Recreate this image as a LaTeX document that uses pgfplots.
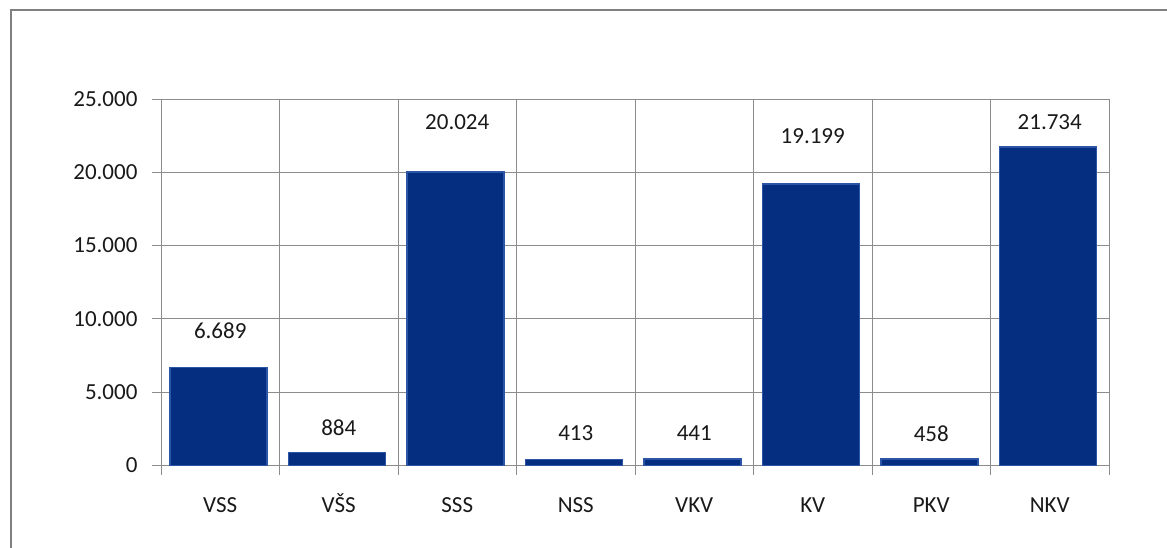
\documentclass[border=0pt]{standalone}
\usepackage{pgfplots}
\pgfplotsset{compat=1.18}
\usepackage{pgfplotstable}
\usepackage{fontspec}
\setmainfont{Carlito}
\definecolor{barfill}{RGB}{6,46,128}
\definecolor{baredge}{RGB}{45,85,165}
\definecolor{gridc}{RGB}{140,140,140}
\definecolor{framec}{RGB}{128,128,128}
\definecolor{txt}{RGB}{25,25,25}
\pgfplotstableread{
x v ly
0 6689 9221
1 884 2596
2 20024 23429
3 413 2186
4 441 2186
5 19199 22473
6 458 2186
7 21734 23429
}\data
\begin{document}
\begin{tikzpicture}
\useasboundingbox (0,0) rectangle (1167pt,547pt);
\draw[framec, line width=1.6pt] (11pt,-5pt) -- (11pt,537pt) -- (1170pt,537pt);
\begin{axis}[
  at={(161pt,81.5pt)}, anchor=south west,
  scale only axis, width=948pt, height=366.5pt,
  xmin=-0.5, xmax=7.5, ymin=0, ymax=25000,
  axis line style={gridc, line width=1pt},
  font=\fontsize{23}{27}\selectfont,
  ytick={0,5000,...,25000},
  scaled y ticks=false,
  /pgf/number format/fixed,
  /pgf/number format/1000 sep={.},
  /pgf/number format/assume math mode=true,
  yticklabel style={text=txt, xshift=-11pt},
  xtick={-0.5,0.5,...,7.5},
  xticklabels={},
  extra x ticks={0,1,...,7},
  extra x tick labels={VSS,VŠS,SSS,NSS,VKV,KV,PKV,NKV},
  extra x tick style={major tick length=0pt, grid=none, xticklabel style={anchor=base, yshift=-47pt, text=txt}},
  xmajorgrids, ymajorgrids,
  grid style={gridc, line width=1pt},
  tick style={gridc, line width=1pt},
  tick align=outside,
  major tick length=9pt,
  xtick pos=bottom, ytick pos=left,
  clip=false,
]
\addplot[ybar, bar width=97pt, bar shift=-2pt, fill=barfill, draw=baredge, line width=1.5pt] table[x=x, y=v] {\data};
\addplot[draw=none, mark=none, point meta=explicit,
  nodes near coords={\pgfmathprintnumber[fixed, precision=0, 1000 sep={.}, assume math mode=true]{\pgfplotspointmeta}},
  nodes near coords align=center,
  every node near coord/.style={text=txt, font=\fontsize{23}{27}\selectfont}]
  table[x=x, y=ly, meta=v] {\data};
\end{axis}
\end{tikzpicture}
\end{document}
